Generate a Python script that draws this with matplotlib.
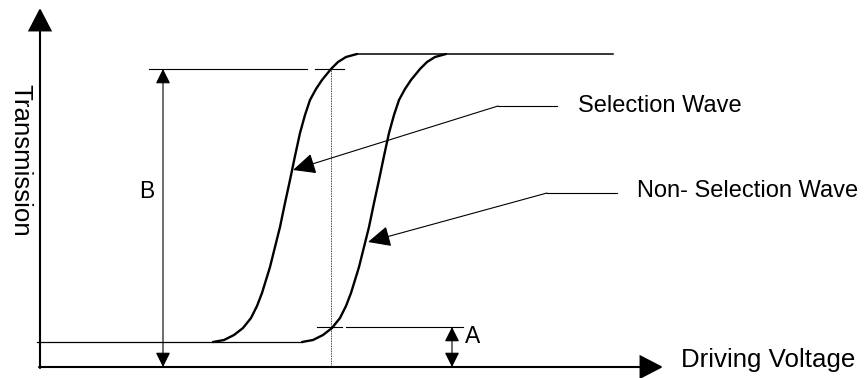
import matplotlib
matplotlib.use("Agg")
import matplotlib.pyplot as plt
from matplotlib.patches import FancyArrowPatch

# transmission curves (pixel units, y down)
sel_x = [213, 224, 234, 243, 251, 257, 262, 266, 270, 275, 280, 285, 290,
         295, 300, 305, 310, 316, 322, 331, 338, 346, 357]
sel_y = [342, 340, 335, 328, 318, 306, 293, 280, 267, 247, 227, 203, 180,
         156, 133, 115, 100, 89, 80, 69, 62, 57, 54]
nsel_x = [302, 313, 323, 332, 340, 346, 351, 355, 359, 364, 369, 374, 379,
          384, 389, 394, 399, 405, 411, 420, 427, 435, 446]
nsel_y = [342, 340, 335, 328, 318, 306, 293, 280, 267, 247, 227, 203, 180,
          156, 133, 115, 100, 89, 80, 69, 62, 57, 54]

# levels
low_level = 342
high_level = 54
sel_level = 69      # B top
nsel_level = 327    # A top
v_drive = 331       # dotted driving voltage

labels = {
    "x": "Driving Voltage",
    "y": "Transmission",
    "sel": "Selection Wave",
    "nsel": "Non- Selection Wave",
}

FONT = "Liberation Sans"

fig = plt.figure(figsize=(8.64, 3.78), dpi=100)
ax = fig.add_axes([0, 0, 1, 1])
ax.set_xlim(0, 864)
ax.set_ylim(378, 0)
ax.axis("off")


def arrow(p0, p1, style, hl, hw, lw):
    a = FancyArrowPatch(p0, p1, arrowstyle=f"{style},head_length={hl},head_width={hw}",
                        mutation_scale=1, shrinkA=0, shrinkB=0, lw=lw,
                        color="black", joinstyle="miter")
    ax.add_patch(a)


# axes
arrow((40, 368), (40, 8), "-|>", 14.5, 7.5, 1.5)
arrow((39, 367), (663, 367), "-|>", 14.5, 7.5, 1.5)

# curves
ax.plot(sel_x, sel_y, color="black", lw=1.7, solid_capstyle="round")
ax.plot(nsel_x, nsel_y, color="black", lw=1.7, solid_capstyle="round")
ax.plot([37, nsel_x[0]], [low_level, low_level], color="black", lw=0.9)
ax.plot([sel_x[-1], 613], [high_level, high_level], color="black", lw=1.1)

# reference lines
ax.plot([149, 307], [sel_level, sel_level], color="black", lw=0.8)
ax.plot([315, 344], [sel_level, sel_level], color="black", lw=0.8)
ax.plot([317, 342], [nsel_level, nsel_level], color="black", lw=0.8)
ax.plot([346, 463], [nsel_level, nsel_level], color="black", lw=0.8)
ax.plot([v_drive, v_drive], [sel_level, 367], color="black", lw=0.6,
        linestyle=(0, (1, 1)))

# B and A
arrow((163, sel_level), (163, 367), "<|-|>", 9, 4.5, 0.8)
arrow((452, nsel_level), (452, 367), "<|-|>", 9, 4.5, 0.8)
ax.text(147, 198, "B", fontsize=16.5, family=FONT, ha="center", va="baseline")
ax.text(465, 343, "A", fontsize=16.5, family=FONT, ha="left", va="baseline")

# leaders
ax.plot([498, 557], [106, 106], color="black", lw=0.8)
arrow((498, 106), (293, 170), "-|>", 14, 6.5, 0.8)
ax.plot([547, 617], [193, 193], color="black", lw=0.8)
arrow((547, 193), (368, 242), "-|>", 14, 6.5, 0.8)

ax.text(578, 112, labels["sel"], fontsize=17, family=FONT, ha="left", va="baseline")
ax.text(637, 197, labels["nsel"], fontsize=17, family=FONT, ha="left", va="baseline")
ax.text(681, 367, labels["x"], fontsize=18.6, family=FONT, ha="left", va="baseline")
ax.text(13, 160, labels["y"], fontsize=18.6, family=FONT, ha="center", va="baseline",
        rotation=-90, rotation_mode="anchor")

fig.savefig("out.png", dpi=100)
